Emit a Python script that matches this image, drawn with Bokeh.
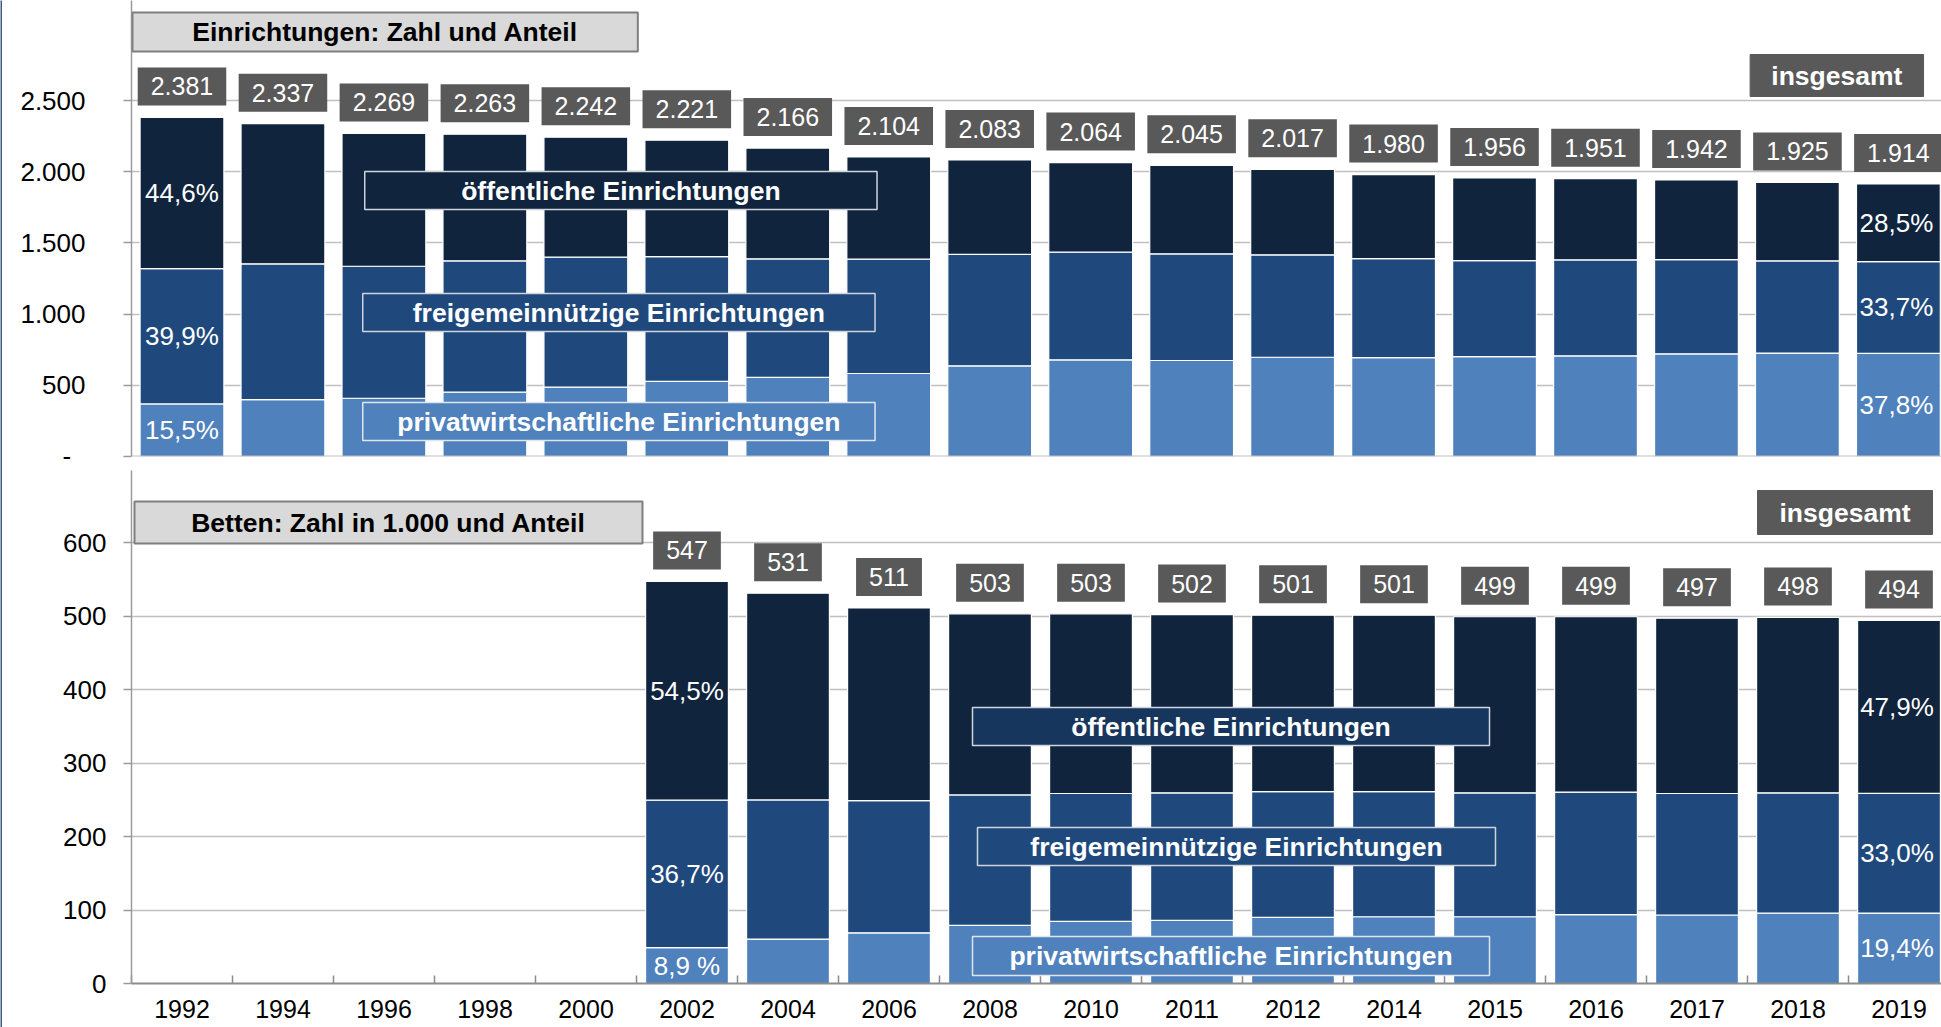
from bokeh.plotting import figure
from bokeh.models import ColumnDataSource, FixedTicker, BoxAnnotation, Label, Range1d, Span
from bokeh.layouts import column, row
from bokeh.embed import file_html
from bokeh.resources import INLINE
from bokeh.core.properties import value

# ---------------- data ----------------
years = ["1992", "1994", "1996", "1998", "2000", "2002", "2004", "2006", "2008",
         "2010", "2011", "2012", "2014", "2015", "2016", "2017", "2018", "2019"]

# Einrichtungen (Zahl)
einr_total = [2381, 2337, 2269, 2263, 2242, 2221, 2166, 2104, 2083,
              2064, 2045, 2017, 1980, 1956, 1951, 1942, 1925, 1914]
einr_privat = [369, 400, 409, 452, 487, 527, 555, 583, 637,
               679, 674, 697, 695, 702, 707, 721, 726, 724]
einr_frei = [950, 953, 927, 922, 913, 877, 833, 803, 782,
             756, 749, 719, 695, 674, 674, 662, 648, 645]
einr_oeff = [1062, 984, 933, 889, 842, 817, 778, 718, 664,
             629, 622, 601, 590, 580, 570, 559, 551, 545]
einr_pct_first = ["15,5%", "39,9%", "44,6%"]   # 1992: privat, frei, öffentlich
einr_pct_last = ["37,8%", "33,7%", "28,5%"]    # 2019

# Betten (Zahl in 1.000), ab 2002
betten_years = ["2002", "2004", "2006", "2008", "2010", "2011", "2012",
                "2014", "2015", "2016", "2017", "2018", "2019"]
betten_total = [547, 531, 511, 503, 503, 502, 501, 501, 499, 499, 497, 498, 494]
betten_privat = [48.7, 60.4, 69.0, 79.2, 84.5, 86.0, 89.9, 90.8, 90.8, 93.7, 93.2, 95.7, 95.8]
betten_frei = [200.7, 189.4, 179.8, 177.3, 174.0, 173.4, 171.1, 170.2, 168.6, 166.7, 165.3, 163.7, 163.0]
betten_oeff = [297.6, 281.2, 262.2, 246.5, 244.5, 242.6, 240.0, 240.0, 239.6, 238.6, 238.5, 238.6, 235.2]
betten_pct_first = ["8,9 %", "36,7%", "54,5%"]  # 2002
betten_pct_last = ["19,4%", "33,0%", "47,9%"]   # 2019

einr_ticks = [0, 500, 1000, 1500, 2000, 2500]
einr_tick_labels = ["-\u00a0\u00a0", "500", "1.000", "1.500", "2.000", "2.500"]
betten_ticks = [0, 100, 200, 300, 400, 500, 600]
betten_tick_labels = ["0", "100", "200", "300", "400", "500", "600"]

# ---------------- style ----------------
FONT = "Liberation Sans"
C_OEFF = "#10243e"
C_FREI = "#1f497d"
C_PRIV = "#4f81bd"
C_OEFF_BOX2 = "#17365d"
C_DARKBOX = "#595959"
C_EDGE = "#3f5b86"
PAGE_W, PAGE_H = 1941, 1027
EDGE_W = 2
W = PAGE_W - EDGE_W


def de(n):
    return f"{n:,}".replace(",", ".")


def base_fig(height, x_end, y_end, left, bottom):
    p = figure(width=W, height=height, x_range=Range1d(-0.5, x_end), y_range=Range1d(0, y_end),
               output_backend="svg", toolbar_location=None,
               min_border_left=left, min_border_right=0, min_border_top=0, min_border_bottom=bottom)
    p.outline_line_color = None
    p.background_fill_color = "white"
    p.border_fill_color = "white"
    p.xgrid.grid_line_color = None
    p.ygrid.grid_line_color = "#c0c0c0"
    p.ygrid.grid_line_width = 1.5
    ya = p.yaxis[0]
    ya.axis_line_color = "#9a9a9a"
    ya.axis_line_width = 1.5
    ya.major_tick_line_color = "#9a9a9a"
    ya.major_tick_line_width = 1.5
    ya.major_tick_out = 8
    ya.major_tick_in = 0
    ya.minor_tick_line_color = None
    ya.major_label_text_font = FONT
    ya.major_label_text_font_size = "26px"
    ya.major_label_text_color = "black"
    return p


def add_box(p, fx, fy, x0, x1, y0, y1, fill, line, lw, text, tcolor, size="26.5px"):
    p.add_layout(BoxAnnotation(left=fx(x0), right=fx(x1), top=fy(y0), bottom=fy(y1),
                               fill_color=fill, fill_alpha=1.0,
                               line_color=line if line else fill, line_alpha=1.0,
                               line_width=lw, line_dash="solid"))
    p.add_layout(Label(x=fx((x0 + x1) / 2), y=fy((y0 + y1) / 2), text=text,
                       text_align="center", text_baseline="middle",
                       text_color=tcolor, text_font=FONT, text_font_size=size,
                       text_font_style="bold"))


def stacked(p, xs, privat, frei, oeff, total, width):
    src = ColumnDataSource(dict(x=xs, privat=privat, frei=frei, oeff=oeff,
                                total=total, lbl=[de(t) for t in total]))
    p.vbar_stack(["privat", "frei", "oeff"], x="x", width=width, source=src,
                 fill_color=[C_PRIV, C_FREI, C_OEFF], line_color="white", line_width=1.2)
    p.text(x="x", y="total", text="lbl", source=src, text_align="center", text_baseline="bottom",
           y_offset=-12, text_color="white", text_font=value(FONT), text_font_size="25px",
           background_fill_color=C_DARKBOX, padding=(13, 10))


def pct_labels(p, xi, priv, frei, oeff, labels, dx=0):
    ys = [priv / 2, priv + frei / 2, priv + frei + oeff / 2]
    src = ColumnDataSource(dict(x=[xi] * 3, y=ys, t=labels))
    p.text(x="x", y="y", text="t", source=src, text_align="center", text_baseline="middle",
           x_offset=dx, text_color="white", text_font=value(FONT), text_font_size="26px")


# ---------------- top chart: Einrichtungen (screen coordinates of the page) ----------------
T_AX, T_STEP, T_Y0, T_YTOP = 125.0, 101.3, 456.0, 100.0
T_FTOP = 0.0
H1 = 470
t_left = int(T_AX - EDGE_W)
t_xend = -0.5 + (PAGE_W - T_AX) / T_STEP
t_upp = 2500.0 / (T_Y0 - T_YTOP)
t_yend = (T_Y0 - T_FTOP) * t_upp
t_bottom = int(H1 - T_Y0)


def tx(sx):
    return -0.5 + (sx - T_AX) / T_STEP


def ty(sy):
    return (T_Y0 - sy) * t_upp


p1 = base_fig(H1, t_xend, t_yend, t_left, t_bottom)
p1.yaxis.ticker = FixedTicker(ticks=einr_ticks)
p1.ygrid.ticker = FixedTicker(ticks=einr_ticks[1:])
p1.yaxis.major_label_overrides = dict(zip(einr_ticks, einr_tick_labels))
p1.yaxis.major_label_standoff = 38
p1.xaxis.visible = False
p1.add_layout(Span(location=0, dimension="width", line_color="#bfbfbf", line_width=2))

xs1 = list(range(len(years)))
stacked(p1, xs1, einr_privat, einr_frei, einr_oeff, einr_total, 0.83)
pct_labels(p1, 0, einr_privat[0], einr_frei[0], einr_oeff[0], einr_pct_first)
pct_labels(p1, len(years) - 1, einr_privat[-1], einr_frei[-1], einr_oeff[-1], einr_pct_last, dx=-2)

add_box(p1, tx, ty, 126, 633, 12, 51, "#d9d9d9", "#7f7f7f", 2, "Einrichtungen: Zahl und Anteil", "black")
add_box(p1, tx, ty, 1749, 1923, 54, 96, C_DARKBOX, None, 1, "insgesamt", "white")
add_box(p1, tx, ty, 359, 873, 171, 209, C_OEFF, "#d0d4dc", 1.5, "öffentliche Einrichtungen", "white")
add_box(p1, tx, ty, 357, 871, 293, 331, C_FREI, "#d0d4dc", 1.5, "freigemeinnützige Einrichtungen", "white")
add_box(p1, tx, ty, 357, 871, 402, 440, C_PRIV, "#e0e6ee", 1.5, "privatwirtschaftliche Einrichtungen", "white")

# ---------------- bottom chart: Betten ----------------
B_AX, B_STEP, B_Y0, B_YTOP, B_FTOP = 131.0, 101.0, 983.0, 542.0, 470.0
H2 = PAGE_H - H1
b_left = int(B_AX - EDGE_W)
b_xend = -0.5 + (PAGE_W - B_AX) / B_STEP
b_upp = 600.0 / (B_Y0 - B_YTOP)
b_yend = (B_Y0 - B_FTOP) * b_upp
b_bottom = int(PAGE_H - B_Y0)


def bx(sx):
    return -0.5 + (sx - B_AX) / B_STEP


def by(sy):
    return (B_Y0 - sy) * b_upp


p2 = base_fig(H2, b_xend, b_yend, b_left, b_bottom)
p2.yaxis.ticker = FixedTicker(ticks=betten_ticks)
p2.ygrid.ticker = FixedTicker(ticks=betten_ticks[1:])
p2.yaxis.major_label_overrides = dict(zip(betten_ticks, betten_tick_labels))
p2.yaxis.major_label_standoff = 17
xa = p2.xaxis[0]
xa.ticker = FixedTicker(ticks=xs1, minor_ticks=[i - 0.5 for i in range(len(years) + 1)])
xa.major_label_overrides = dict(zip(xs1, years))
xa.major_tick_line_color = None
xa.major_tick_in = 0
xa.major_tick_out = 0
xa.minor_tick_line_color = "#8c8c8c"
xa.minor_tick_line_width = 1.5
xa.minor_tick_in = 8
xa.minor_tick_out = 0
xa.axis_line_color = "#8c8c8c"
xa.axis_line_width = 2
xa.major_label_standoff = 16
xa.major_label_text_font = FONT
xa.major_label_text_font_size = "25px"
xa.major_label_text_color = "black"

xs2 = [years.index(y) for y in betten_years]
stacked(p2, xs2, betten_privat, betten_frei, betten_oeff, betten_total, 0.82)
pct_labels(p2, xs2[0], betten_privat[0], betten_frei[0], betten_oeff[0], betten_pct_first)
pct_labels(p2, xs2[-1], betten_privat[-1], betten_frei[-1], betten_oeff[-1], betten_pct_last, dx=-2)

add_box(p2, bx, by, 134, 642, 501, 543, "#d9d9d9", "#7f7f7f", 2, "Betten: Zahl in 1.000 und Anteil", "black")
add_box(p2, bx, by, 1757, 1932, 490, 534, C_DARKBOX, None, 1, "insgesamt", "white")
add_box(p2, bx, by, 972, 1489, 707, 745, C_OEFF_BOX2, "#d0d4dc", 1.5, "öffentliche Einrichtungen", "white")
add_box(p2, bx, by, 977, 1495, 827, 865, C_FREI, "#d0d4dc", 1.5, "freigemeinnützige Einrichtungen", "white")
add_box(p2, bx, by, 972, 1489, 936, 975, C_PRIV, "#e0e6ee", 1.5, "privatwirtschaftliche Einrichtungen", "white")

# thin frame line at the left edge of the picture
edge = figure(width=EDGE_W, height=PAGE_H, output_backend="svg", toolbar_location=None,
              min_border=0, x_range=Range1d(0, 1), y_range=Range1d(0, 1))
edge.background_fill_color = C_EDGE
edge.border_fill_color = C_EDGE
edge.outline_line_color = None
edge.axis.visible = False
edge.grid.visible = False

layout = row(edge, column(p1, p2, spacing=0), spacing=0)
open("out.html", "w").write(file_html(layout, INLINE))
